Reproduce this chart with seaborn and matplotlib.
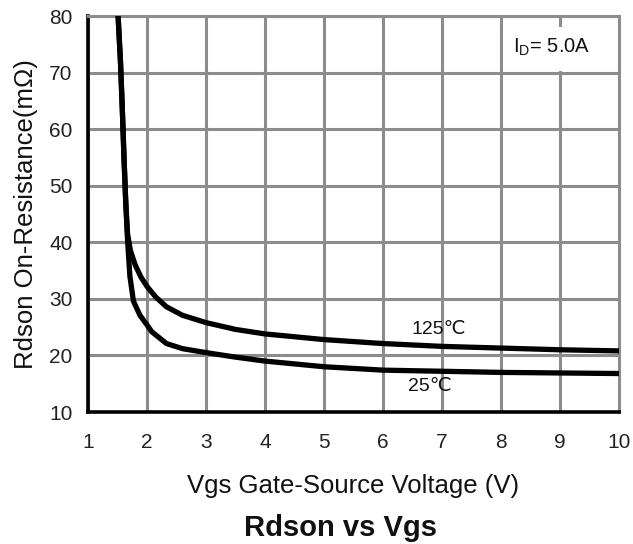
import matplotlib
matplotlib.use("Agg")
import matplotlib.pyplot as plt
import seaborn as sns
import pandas as pd
from matplotlib.patches import Rectangle

# ---- data ----
vgs_125 = [1.51, 1.55, 1.58, 1.61, 1.64, 1.67, 1.72, 1.80, 1.90, 2.00, 2.15, 2.33, 2.60,
           3.00, 3.50, 4.00, 5.00, 6.00, 7.00, 8.00, 9.00, 10.00]
rds_125 = [80, 72, 64, 55, 47, 41.5, 38.5, 36.0, 33.8, 32.2, 30.3, 28.6, 27.1,
           25.8, 24.6, 23.8, 22.8, 22.1, 21.6, 21.3, 21.0, 20.8]
vgs_25 = [1.51, 1.55, 1.58, 1.61, 1.64, 1.67, 1.71, 1.77, 1.88, 2.00, 2.08, 2.33, 2.60,
          3.00, 3.50, 4.00, 5.00, 6.00, 7.00, 8.00, 9.00, 10.00]
rds_25 = [80, 72, 64, 55, 47, 40.5, 34.0, 29.6, 27.1, 25.4, 24.2, 22.1, 21.2,
          20.5, 19.7, 19.0, 18.0, 17.4, 17.2, 17.0, 16.9, 16.8]
x_ticks = [1, 2, 3, 4, 5, 6, 7, 8, 9, 10]
y_ticks = [10, 20, 30, 40, 50, 60, 70, 80]
curve_labels = ["125℃", "25℃"]

df = pd.concat([
    pd.DataFrame({"vgs": vgs_125, "rds": rds_125, "temp": curve_labels[0]}),
    pd.DataFrame({"vgs": vgs_25, "rds": rds_25, "temp": curve_labels[1]}),
], ignore_index=True)

sns.set_style("white")
plt.rcParams["font.family"] = ["Liberation Sans", "DejaVu Sans"]

fig = plt.figure(figsize=(6.33, 5.44), dpi=100)
ax = fig.add_axes([88/633, 1-412/544, (619-88)/633, (412-16)/544])

grid_c = "#8c8c8c"
ax.set_xlim(1, 10)
ax.set_ylim(10, 80)
ax.set_xticks(x_ticks)
ax.set_yticks(y_ticks)
ax.grid(True, color=grid_c, linewidth=2.2, zorder=0)
ax.set_axisbelow(True)

sns.lineplot(data=df, x="vgs", y="rds", hue="temp", units="temp", estimator=None,
             sort=False, palette={curve_labels[0]: "black", curve_labels[1]: "black"},
             linewidth=3.8, legend=False, ax=ax, zorder=3)

for s in ["left", "bottom"]:
    ax.spines[s].set_color("black")
    ax.spines[s].set_linewidth(2.6)
for s in ["top", "right"]:
    ax.spines[s].set_color(grid_c)
    ax.spines[s].set_linewidth(2.2)

ax.tick_params(axis="both", direction="in", length=6, width=2, color="black",
               labelsize=15, labelcolor="#222222")
ax.tick_params(axis="x", pad=15)
ax.tick_params(axis="y", pad=11)

ax.set_xlabel("Vgs Gate-Source Voltage (V)", fontsize=18.5, color="#111111", labelpad=16)
ax.set_ylabel("Rdson On-Resistance(mΩ)", fontsize=18.5, color="#111111", labelpad=8)

# ID box
ax.add_patch(Rectangle((8.04, 70.25), 1.92, 7.8, facecolor="white", edgecolor="none", zorder=2))
ax.text(8.2, 74.4, r"I$_\mathregular{D}$= 5.0A", fontsize=14.5, va="center", ha="left",
        color="#111111", zorder=4)

ax.text(6.95, 24.5, curve_labels[0], fontsize=14, ha="center", va="center", color="#111111", zorder=4)
ax.text(6.8, 14.5, curve_labels[1], fontsize=14, ha="center", va="center", color="#111111", zorder=4)

fig.text(340/633, 1-528/544, "Rdson vs Vgs", fontsize=21, fontweight="bold",
         ha="center", va="center", color="#111111")

fig.savefig("out.png", dpi=100)
